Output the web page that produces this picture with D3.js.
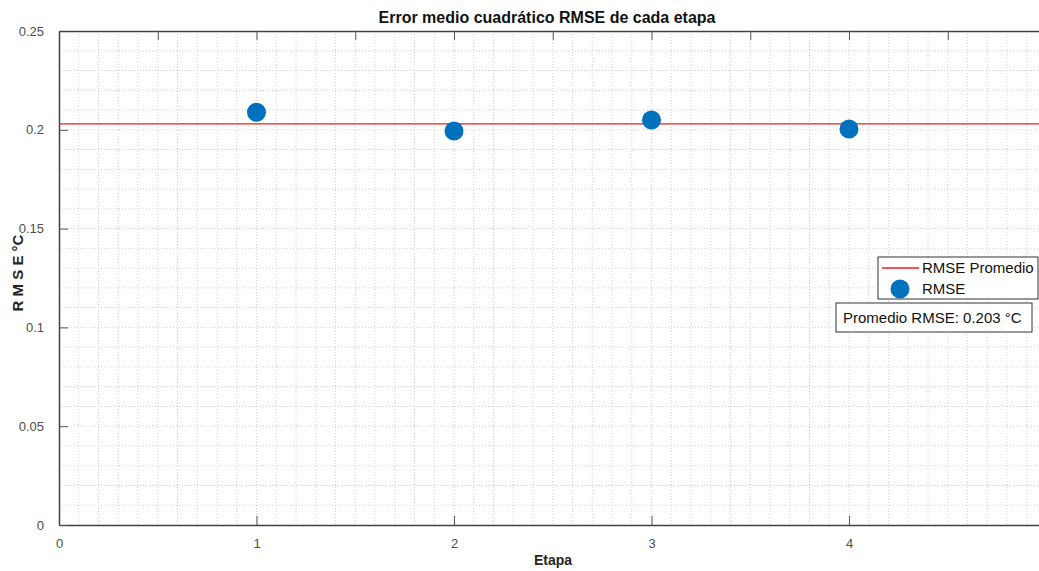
<!DOCTYPE html>
<html>
<head>
<meta charset="utf-8">
<script src="https://cdn.jsdelivr.net/npm/d3@7"></script>
<style>
  body { margin: 0; background: #fff; }
  text { font-family: "Liberation Sans", Arial, sans-serif; }
</style>
</head>
<body>
<div class="canvas"></div>
<script>
// data
const etapas = [1, 2, 3, 4]
const rmse = [0.2089, 0.1994, 0.2050, 0.2004]
const promedio = 0.203
const xTicks = [0, 1, 2, 3, 4]
const yTicks = [0, 0.05, 0.1, 0.15, 0.2, 0.25]

const width = 1039
const height = 571
const margin = { top: 31, right: 0, bottom: 46, left: 59 }
const graphWidth = 987.5
const graphHeight = height - margin.top - margin.bottom

const svg = d3.select('.canvas')
  .append('svg')
  .attr('width', width)
  .attr('height', height)

const graph = svg.append('g')
  .attr('transform', `translate(${margin.left}, ${margin.top})`)

// scales
const x = d3.scaleLinear().domain([0, 5]).range([0, graphWidth])
const y = d3.scaleLinear().domain([0, 0.25]).range([graphHeight, 0])

// minor grid (dotted)
const gridX = d3.range(1, 50).map(i => i / 10)
const gridY = d3.range(1, 25).map(i => i / 100)

graph.append('g').selectAll('line')
  .data(gridX)
  .enter().append('line')
  .attr('x1', d => x(d)).attr('x2', d => x(d))
  .attr('y1', 0).attr('y2', graphHeight)
  .attr('stroke', '#d2d2d2')
  .attr('stroke-dasharray', '1,2')

graph.append('g').selectAll('line')
  .data(gridY)
  .enter().append('line')
  .attr('x1', 0).attr('x2', graphWidth)
  .attr('y1', d => y(d)).attr('y2', d => y(d))
  .attr('stroke', '#d2d2d2')
  .attr('stroke-dasharray', '1,2')

// axes
const xAxis = d3.axisBottom(x).tickValues(xTicks).tickFormat(d3.format('d'))
  .tickSizeInner(-9).tickSizeOuter(0).tickPadding(14)
const yAxis = d3.axisLeft(y).tickValues(yTicks).tickFormat(d => d === 0 ? '0' : String(+d.toFixed(2)))
  .tickSizeInner(-9).tickSizeOuter(0).tickPadding(15)
const topAxis = d3.axisTop(x).tickValues(d3.range(1, 10).map(i => i / 2)).tickFormat('')
  .tickSizeInner(-9).tickSizeOuter(0)

const xAxisGroup = graph.append('g')
  .attr('transform', `translate(0, ${graphHeight})`)
  .call(xAxis)
const yAxisGroup = graph.append('g').call(yAxis)
const topAxisGroup = graph.append('g').call(topAxis)

;[xAxisGroup, yAxisGroup, topAxisGroup].forEach(g => {
  g.select('.domain').attr('stroke', '#404040').attr('stroke-width', 1.5)
  g.selectAll('.tick line').attr('stroke', '#555').attr('stroke-width', 1)
  g.selectAll('text')
    .attr('fill', '#4d4d4d')
    .style('font-size', '13px')
})
yAxisGroup.selectAll('text').attr('dy', '0.32em')

// average line
graph.append('line')
  .attr('x1', 0).attr('x2', graphWidth)
  .attr('y1', y(promedio)).attr('y2', y(promedio))
  .attr('stroke', '#ee1c1c')
  .attr('stroke-width', 1.3)

// points
graph.selectAll('circle.pt')
  .data(etapas)
  .enter().append('circle')
  .attr('class', 'pt')
  .attr('cx', d => x(d))
  .attr('cy', (d, i) => y(rmse[i]))
  .attr('r', 9.5)
  .attr('fill', '#0072BD')

// title and labels
svg.append('text')
  .attr('x', 547).attr('y', 23)
  .attr('text-anchor', 'middle')
  .style('font-size', '16px').style('font-weight', 'bold')
  .attr('fill', '#111')
  .text('Error medio cuadrático RMSE de cada etapa')

svg.append('text')
  .attr('x', 553).attr('y', 565)
  .attr('text-anchor', 'middle')
  .style('font-size', '14px').style('font-weight', 'bold')
  .attr('fill', '#262626')
  .text('Etapa')

svg.append('text')
  .attr('transform', 'translate(23, 273) rotate(-90)')
  .attr('text-anchor', 'middle')
  .style('font-size', '15px').style('font-weight', 'bold')
  .attr('fill', '#262626')
  .text('R M S E °C')

// legend
const legend = svg.append('g')
legend.append('rect')
  .attr('x', 878).attr('y', 257).attr('width', 160).attr('height', 42)
  .attr('fill', '#fff').attr('stroke', '#333').attr('stroke-width', 1)
legend.append('line')
  .attr('x1', 882).attr('x2', 919).attr('y1', 268).attr('y2', 268)
  .attr('stroke', '#ee1c1c').attr('stroke-width', 1.3)
legend.append('text')
  .attr('x', 922).attr('y', 273)
  .style('font-size', '15px').attr('fill', '#111')
  .text('RMSE Promedio')
legend.append('circle')
  .attr('cx', 900).attr('cy', 289).attr('r', 9.5)
  .attr('fill', '#0072BD')
legend.append('text')
  .attr('x', 922).attr('y', 294)
  .style('font-size', '15px').attr('fill', '#111')
  .text('RMSE')

// annotation box
svg.append('rect')
  .attr('x', 836).attr('y', 303).attr('width', 196).attr('height', 29)
  .attr('fill', '#fff').attr('stroke', '#333').attr('stroke-width', 1)
svg.append('text')
  .attr('x', 843).attr('y', 323)
  .style('font-size', '15px').attr('fill', '#111')
  .text(`Promedio RMSE: ${promedio.toFixed(3)} °C`)
</script>
</body>
</html>
